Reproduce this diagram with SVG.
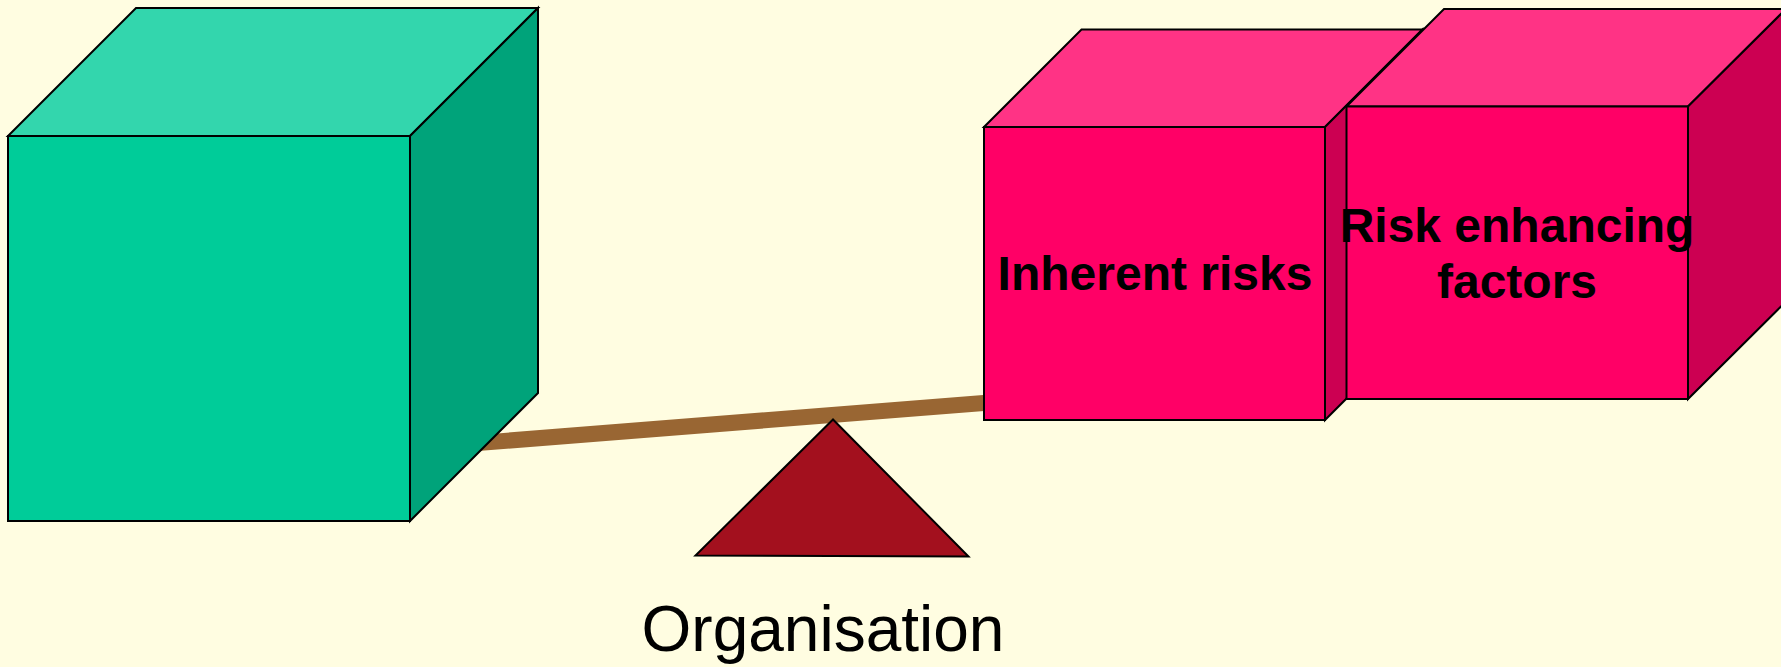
<svg xmlns="http://www.w3.org/2000/svg" width="1781" height="667" viewBox="0 0 1781 667">
  <style>
    .edge { stroke: #000000; stroke-width: 2; stroke-linejoin: miter; }
    .g-front { fill: #00CC99; }
    .g-top { fill: #33D6AD; }
    .g-side { fill: #00A37A; }
    .p-front { fill: #FF0066; }
    .p-top { fill: #FF3385; }
    .p-side { fill: #CC0052; }
    .cube-label { font-family: "Liberation Sans", Arial, sans-serif; font-weight: bold; font-size: 48px; fill: #000000; text-anchor: middle; }
    .caption { font-family: "Liberation Sans", Arial, sans-serif; font-size: 64px; fill: #000000; text-anchor: middle; }
  </style>

  <!-- background -->
  <rect x="0" y="0" width="1781" height="667" fill="#FFFDE1"/>

  <!-- balance beam -->
  <g id="connectors">
    <line x1="430" y1="446.8" x2="990" y2="402.5" stroke="#996633" stroke-width="16"/>
  </g>

  <!-- left weight (green cube) -->
  <g id="cube-left">
    <polygon class="g-top edge" points="8,136 136,8 538,8 410,136"/>
    <polygon class="g-side edge" points="410,136 538,8 538,393 410,521"/>
    <rect class="g-front edge" x="8" y="136" width="402" height="385"/>
  </g>

  <!-- fulcrum -->
  <g id="fulcrum">
    <polygon class="edge" fill="#A3101E" points="833,419.5 695.5,555.5 968.5,556.5"/>
    <text class="caption" x="823" y="651">Organisation</text>
  </g>

  <!-- right weight: inherent risks -->
  <g id="cube-inherent">
    <polygon class="p-top edge" points="984,127 1081.5,29.5 1422.5,29.5 1325,127"/>
    <polygon class="p-side edge" points="1325,127 1422.5,29.5 1422.5,322.5 1325,420"/>
    <rect class="p-front edge" x="984" y="127" width="341" height="293"/>
    <text class="cube-label" x="1155" y="290">Inherent risks</text>
  </g>

  <!-- right weight: risk enhancing factors -->
  <g id="cube-enhancing">
    <polygon class="p-top edge" points="1346.5,106.5 1444,9 1786,9 1688,106.5"/>
    <polygon class="p-side edge" points="1688,106.5 1786,9 1786,301.5 1688,399"/>
    <rect class="p-front edge" x="1346.5" y="106.5" width="341.5" height="292.5"/>
    <text class="cube-label" x="1517" y="242">Risk enhancing</text>
    <text class="cube-label" x="1517" y="298">factors</text>
  </g>
</svg>
